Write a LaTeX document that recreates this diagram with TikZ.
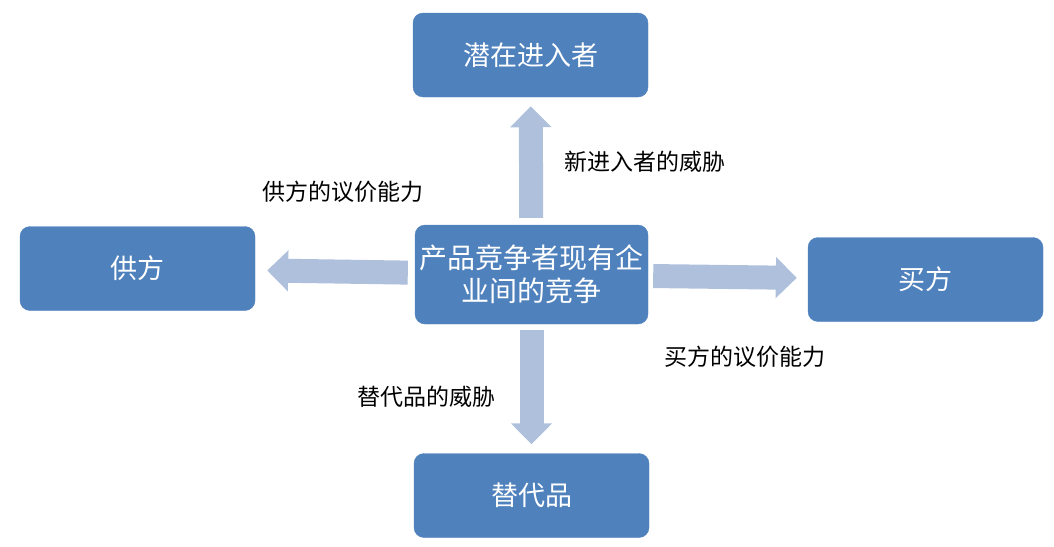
\documentclass[tikz,border=0pt]{standalone}
\usepackage{fontspec}
\newfontfamily\cjk{Noto Sans CJK SC}
\usetikzlibrary{arrows.meta}
\definecolor{boxblue}{HTML}{4F81BD}
\definecolor{arrowblue}{HTML}{AEC0DC}
\tikzset{
  force/.style={draw=boxblue,fill=boxblue,rounded corners=10pt,text=white,font=\cjk\fontsize{27}{33}\selectfont,minimum width=235pt,minimum height=84pt,inner sep=0pt},
  bigarrow/.style={draw=arrowblue,line width=24pt,-{Triangle[width=40pt,length=21pt]}},
  lbl/.style={font=\cjk\fontsize{23}{27}\selectfont,inner sep=0pt}
}
\begin{document}
\begin{tikzpicture}[x=1pt,y=-1pt]
\useasboundingbox (0,0) rectangle (1054,546);
\node[force] (E) at (530.5,55) {潜在进入者};
\node[force,font=\cjk\fontsize{28}{33}\selectfont,minimum width=233pt,minimum height=99pt,align=center,text width=233pt] (C) at (531.5,274.5) {产品竞争者现有企\\业间的竞争};
\node[force] (S) at (137.5,268.5) {供方};
\node[force] (B) at (925.5,279.5) {买方};
\node[force] (T) at (531.5,495.5) {替代品};
\draw[bigarrow,shorten <=7pt,shorten >=9pt] (C) -- (E);
\draw[bigarrow,shorten <=7pt,shorten >=12pt] (C) -- (S);
\draw[bigarrow,shorten <=5pt,shorten >=11pt] (C) -- (B);
\draw[bigarrow,shorten <=6pt,shorten >=9pt] (C) -- (T);
\node[lbl] (LE) at (645,162) {新进入者的威胁};
\node[lbl] (LS) at (343,192) {供方的议价能力};
\node[lbl] (LB) at (745,357) {买方的议价能力};
\node[lbl] (LT) at (426,397) {替代品的威胁};
\end{tikzpicture}
\end{document}
